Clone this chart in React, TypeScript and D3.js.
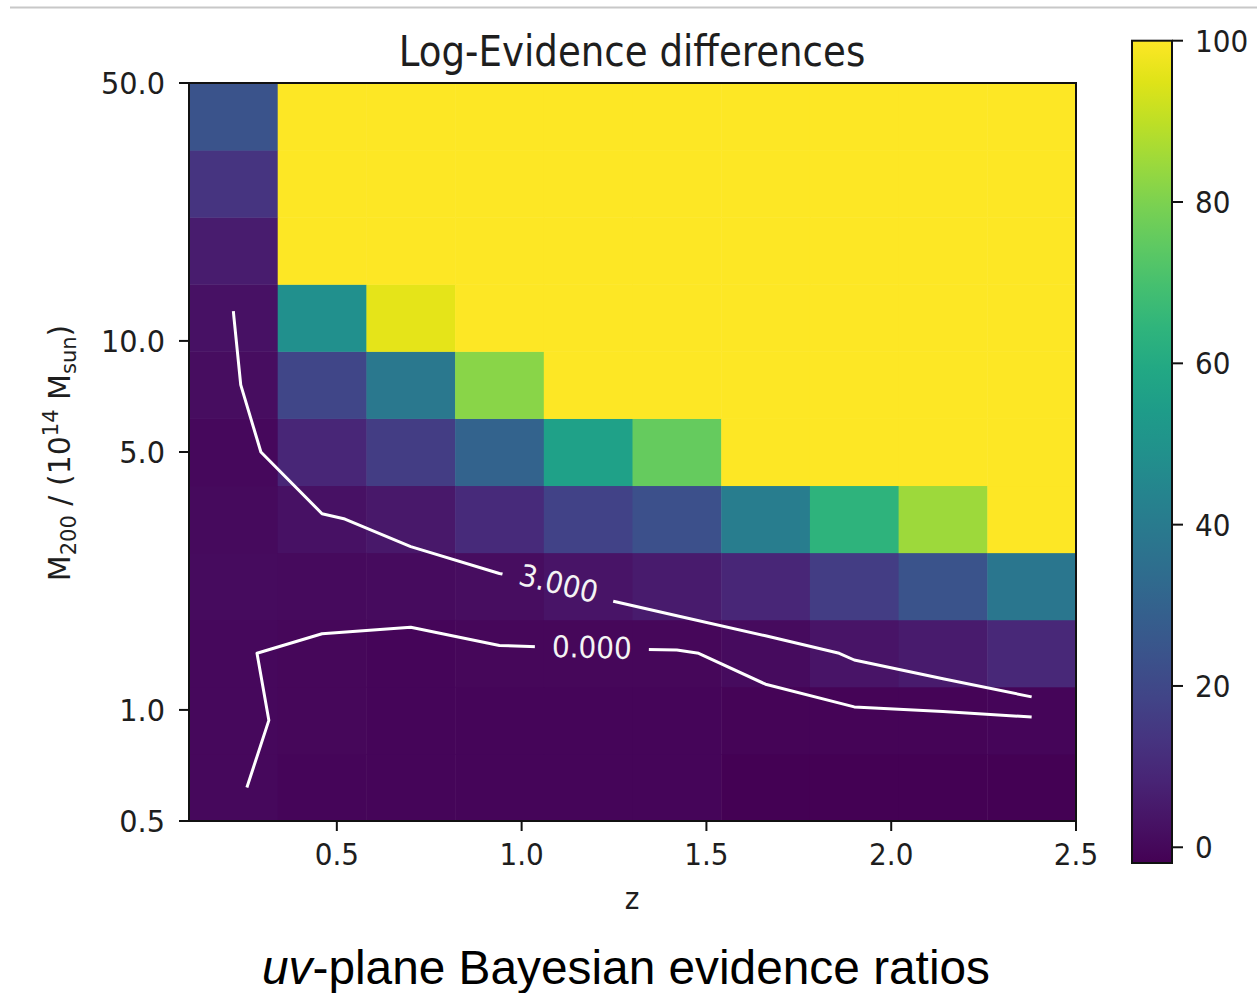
import React from 'react';
import * as d3 from 'd3';

// Redshift bin centres (z) and cluster-mass bin centres (10^14 Msun, log-spaced)
const redshifts = [0.22, 0.46, 0.7, 0.94, 1.18, 1.42, 1.66, 1.9, 2.14, 2.38];
const massCenters = [0.616, 0.937, 1.424, 2.164, 3.29, 5.0, 7.6, 11.55, 17.55, 26.68, 40.56];

// Log-evidence differences, one array per mass bin (lowest mass first)
const massBin01 = [0.09, -0.5, -0.6, -0.6, -0.6, -0.7, -1.7, -1.8, -1.9, -1.95];
const massBin02 = [0.2, -0.3, -0.4, -0.5, -0.5, -0.6, -1.04, -0.86, -0.8, -0.5];
const massBin03 = [0.12, -0.33, -0.53, -0.18, -0.27, -0.29, 0.89, 3.43, 5.33, 9.5];
const massBin04 = [1.0, 0.8, 0.84, 1.36, 3.53, 5.59, 9, 16, 24, 38];
const massBin05 = [0.5, 2.48, 4.5, 10, 18, 23, 41, 64, 85, 100];
const massBin06 = [0.3, 9, 16, 30, 56, 76, 100, 100, 100, 100];
const massBin07 = [1.5, 19.5, 39, 82, 100, 100, 100, 100, 100, 100];
const massBin08 = [2.67, 49, 96, 100, 100, 100, 100, 100, 100, 100];
const massBin09 = [6, 100, 100, 100, 100, 100, 100, 100, 100, 100];
const massBin10 = [13.5, 100, 100, 100, 100, 100, 100, 100, 100, 100];
const massBin11 = [24, 100, 100, 100, 100, 100, 100, 100, 100, 100];

const evidence = [
  massBin01, massBin02, massBin03, massBin04, massBin05, massBin06,
  massBin07, massBin08, massBin09, massBin10, massBin11,
];

// Axis ticks
const zTicks = [0.5, 1.0, 1.5, 2.0, 2.5];
const massTicks = [0.5, 1, 5, 10, 50];
const colorTicks = [0, 20, 40, 60, 80, 100];

// Contour levels and the redshift at which each level is labelled
const contourLevels = [0, 3];
const contourLabelZ = [1.19, 1.1];

const W = 1257;
const H = 993;
const plot = { left: 189, right: 1076, top: 83, bottom: 821 };
const cbar = { left: 1132, right: 1172, top: 40.7, bottom: 863 };
const TXT = '#1e1e1e';
const FONT = 'DejaVu Sans, sans-serif';

type Pt = [number, number];

// Marching squares on the bin-centre grid, returning open polylines
function isolines(grid: number[][], level: number, px: (c: number) => number, py: (r: number) => number): Pt[][] {
  const nr = grid.length;
  const nc = grid[0].length;
  const pts = new Map<string, Pt>();
  const adj = new Map<string, string[]>();
  const edge = (c0: number, r0: number, c1: number, r1: number): string | null => {
    const v0 = grid[r0][c0];
    const v1 = grid[r1][c1];
    if ((v0 >= level) === (v1 >= level)) return null;
    const key = `${c0},${r0},${c1},${r1}`;
    if (!pts.has(key)) {
      const t = (level - v0) / (v1 - v0);
      pts.set(key, [px(c0) + t * (px(c1) - px(c0)), py(r0) + t * (py(r1) - py(r0))]);
    }
    return key;
  };
  const link = (a: string, b: string) => {
    if (!adj.has(a)) adj.set(a, []);
    if (!adj.has(b)) adj.set(b, []);
    adj.get(a)!.push(b);
    adj.get(b)!.push(a);
  };
  for (let r = 0; r < nr - 1; r++) {
    for (let c = 0; c < nc - 1; c++) {
      const e = [edge(c, r, c + 1, r), edge(c + 1, r, c + 1, r + 1), edge(c, r + 1, c + 1, r + 1), edge(c, r, c, r + 1)];
      const found = e.filter((k) => k !== null) as string[];
      if (found.length === 2) link(found[0], found[1]);
      else if (found.length === 4) {
        const centre = (grid[r][c] + grid[r][c + 1] + grid[r + 1][c] + grid[r + 1][c + 1]) / 4;
        if ((centre >= level) === (grid[r][c] >= level)) {
          link(e[0]!, e[1]!);
          link(e[2]!, e[3]!);
        } else {
          link(e[0]!, e[3]!);
          link(e[1]!, e[2]!);
        }
      }
    }
  }
  const seen = new Set<string>();
  const keys = [...adj.keys()];
  const starts = keys.filter((k) => adj.get(k)!.length === 1).concat(keys);
  const lines: Pt[][] = [];
  for (const s of starts) {
    if (seen.has(s)) continue;
    const chain = [s];
    seen.add(s);
    let cur = s;
    for (;;) {
      const next = adj.get(cur)!.find((n) => !seen.has(n));
      if (!next) break;
      chain.push(next);
      seen.add(next);
      cur = next;
    }
    lines.push(chain.map((k) => pts.get(k)!));
  }
  return lines;
}

function pointAtX(line: Pt[], x: number): Pt | null {
  for (let i = 0; i < line.length - 1; i++) {
    const [x0, y0] = line[i];
    const [x1, y1] = line[i + 1];
    if ((x - x0) * (x - x1) <= 0 && x0 !== x1) {
      const t = (x - x0) / (x1 - x0);
      return [x, y0 + t * (y1 - y0)];
    }
  }
  return null;
}

function Txt(props: {
  x: number; y: number; size: number; sx?: number; rot?: number; anchor?: string;
  family?: string; fill?: string; style?: string; children: React.ReactNode;
}) {
  const { x, y, size, sx = 1, rot = 0, anchor = 'middle', family = FONT, fill = TXT, style } = props;
  return (
    <text
      transform={`translate(${x},${y}) rotate(${rot}) scale(${sx},1)`}
      textAnchor={anchor}
      fontSize={size}
      fontFamily={family}
      fontStyle={style}
      fill={fill}
    >
      {props.children}
    </text>
  );
}

export default function App() {
  const x = d3.scaleLinear().domain([0.1, 2.5]).range([plot.left, plot.right]);
  const y = d3.scaleLog().domain([0.5, 50]).range([plot.bottom, plot.top]);

  const flat = evidence.flat();
  const vmin = d3.min(flat)!;
  const vmax = d3.max(flat)!;
  const color = d3.scaleSequential(d3.interpolateViridis).domain([vmin, vmax]);
  const cy = d3.scaleLinear().domain([vmin, vmax]).range([cbar.bottom, cbar.top]);

  // bin edges from the centres
  const dz = redshifts[1] - redshifts[0];
  const zEdges = redshifts.map((z) => z - dz / 2).concat([redshifts[redshifts.length - 1] + dz / 2]);
  const mEdges = [massCenters[0] / Math.sqrt(massCenters[1] / massCenters[0])]
    .concat(massCenters.slice(0, -1).map((m, i) => Math.sqrt(m * massCenters[i + 1])))
    .concat([massCenters[massCenters.length - 1] * Math.sqrt(massCenters[massCenters.length - 1] / massCenters[massCenters.length - 2])]);

  const contours = contourLevels.map((level, li) => {
    const lines = isolines(evidence, level, (c) => x(redshifts[c]), (r) => y(massCenters[r]));
    const lx = x(contourLabelZ[li]);
    let label: { p: Pt; angle: number } | null = null;
    for (const ln of lines) {
      const p = pointAtX(ln, lx);
      if (p) {
        const a = pointAtX(ln, lx - 55) || p;
        const b = pointAtX(ln, lx + 55) || p;
        const angle = (Math.atan2(b[1] - a[1], b[0] - a[0]) * 180) / Math.PI;
        label = { p, angle };
        break;
      }
    }
    return { level, lines, label };
  });

  const line = d3.line<Pt>().x((d) => d[0]).y((d) => d[1]);
  const gradStops = d3.range(0, 1.0001, 0.05);

  return (
    <svg width={W} height={H} style={{ position: 'absolute', left: 0, top: 0, background: '#fff' }}>
      <defs>
        <clipPath id="plotClip">
          <rect x={plot.left} y={plot.top} width={plot.right - plot.left} height={plot.bottom - plot.top} />
        </clipPath>
        <linearGradient id="cbarGrad" x1="0" y1="1" x2="0" y2="0">
          {gradStops.map((t) => (
            <stop key={t} offset={t} stopColor={d3.interpolateViridis(t)} />
          ))}
        </linearGradient>
        {contours.map((c, i) =>
          c.label ? (
            <mask id={`gap${i}`} key={i} maskUnits="userSpaceOnUse" x={0} y={0} width={W} height={H}>
              <rect x={0} y={0} width={W} height={H} fill="#fff" />
              <rect
                x={-57}
                y={-22}
                width={114}
                height={44}
                fill="#000"
                transform={`translate(${c.label.p[0]},${c.label.p[1]}) rotate(${c.label.angle})`}
              />
            </mask>
          ) : null,
        )}
      </defs>

      <line x1={10} x2={W} y1={7.5} y2={7.5} stroke="#c8c8c8" strokeWidth={2} />

      {/* heatmap */}
      <g clipPath="url(#plotClip)">
        {evidence.map((row, r) =>
          row.map((v, c) => (
            <rect
              key={`${r}-${c}`}
              x={x(zEdges[c])}
              y={y(mEdges[r + 1])}
              width={x(zEdges[c + 1]) - x(zEdges[c]) + 0.5}
              height={y(mEdges[r]) - y(mEdges[r + 1]) + 0.5}
              fill={color(v)}
            />
          )),
        )}
      </g>

      {/* contour lines */}
      {contours.map((c, i) => (
        <g key={i} mask={c.label ? `url(#gap${i})` : undefined}>
          {c.lines.map((ln, j) => (
            <path key={j} d={line(ln)!} fill="none" stroke="#fff" strokeWidth={3} strokeLinejoin="round" />
          ))}
        </g>
      ))}
      {contours.map((c, i) =>
        c.label ? (
          <text
            key={i}
            transform={`translate(${c.label.p[0]},${c.label.p[1] - 1}) rotate(${c.label.angle}) scale(0.93,1)`}
            textAnchor="middle"
            dominantBaseline="central"
            fontSize={30}
            fontFamily={FONT}
            fill="#f4f4f4"
          >
            {c.level.toFixed(3)}
          </text>
        ) : null,
      )}

      {/* frame */}
      <rect x={plot.left} y={plot.top} width={plot.right - plot.left} height={plot.bottom - plot.top} fill="none" stroke="#111" strokeWidth={2} />

      {/* x axis */}
      {zTicks.map((t) => (
        <g key={t}>
          <line x1={x(t)} x2={x(t)} y1={plot.bottom} y2={plot.bottom + 10} stroke="#111" strokeWidth={2} />
          <Txt x={x(t)} y={865} size={30} sx={0.93}>{t.toFixed(1)}</Txt>
        </g>
      ))}
      <Txt x={632} y={909} size={30} sx={0.93}>z</Txt>

      {/* y axis */}
      {massTicks.map((t) => (
        <g key={t}>
          <line x1={plot.left - 10} x2={plot.left} y1={y(t)} y2={y(t)} stroke="#111" strokeWidth={2} />
          <Txt x={165} y={y(t) + 11} size={30} sx={0.96} anchor="end">{t.toFixed(1)}</Txt>
        </g>
      ))}
      <text transform="translate(70,453) rotate(-90)" textAnchor="middle" fontSize={30} fontFamily={FONT} fill={TXT}>
        M<tspan fontSize={21} dy={6}>200</tspan>
        <tspan dy={-6}> / (10</tspan>
        <tspan fontSize={21} dy={-12}>14</tspan>
        <tspan dy={12}> M</tspan>
        <tspan fontSize={21} dy={6}>sun</tspan>
        <tspan dy={-6}>)</tspan>
      </text>

      {/* title */}
      <Txt x={632} y={66} size={42} sx={0.885}>Log-Evidence differences</Txt>

      {/* colour bar */}
      <rect x={cbar.left} y={cbar.top} width={cbar.right - cbar.left} height={cbar.bottom - cbar.top} fill="url(#cbarGrad)" stroke="#111" strokeWidth={2} />
      {colorTicks.map((t) => (
        <g key={t}>
          <line x1={cbar.right} x2={cbar.right + 11} y1={cy(t)} y2={cy(t)} stroke="#111" strokeWidth={2} />
          <Txt x={1195} y={cy(t) + 11} size={30} sx={0.93} anchor="start">{t}</Txt>
        </g>
      ))}

      {/* caption */}
      <text x={626} y={984} textAnchor="middle" fontSize={47.8} fontFamily="Liberation Sans, Arial, sans-serif" fill="#000">
        <tspan fontStyle="italic">uv</tspan>-plane Bayesian evidence ratios
      </text>
    </svg>
  );
}
